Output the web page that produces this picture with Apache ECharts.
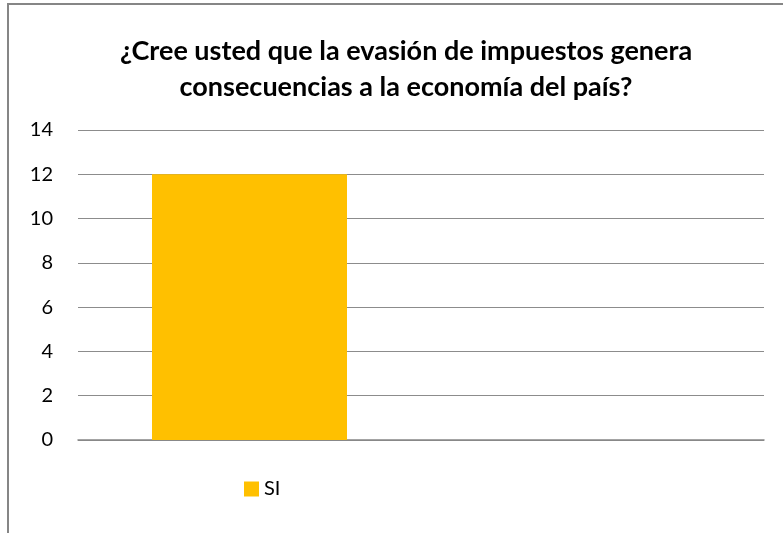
<!DOCTYPE html>
<html><head><meta charset="utf-8">
<script src="https://cdn.jsdelivr.net/npm/echarts@6/dist/echarts.min.js"></script>
<style>html,body{margin:0;padding:0;background:#fff}#c{width:783px;height:533px}</style>
</head><body><div id="c"></div>
<script>
var titleText = '¿Cree usted que la evasión de impuestos genera\nconsecuencias a la economía del país?';
var categories = ['', ''];
var seriesName = 'SI';
var siValues = [12, 0];
var yTicks = {min: 0, max: 14, interval: 2};

var chart = echarts.init(document.getElementById('c'));
chart.setOption({
  backgroundColor: '#fff',
  animation: false,
  graphic: [{
    type: 'rect', shape: {x: 8, y: 4, width: 800, height: 560},
    style: {fill: 'none', stroke: '#868686', lineWidth: 2}, silent: true
  }],
  title: {
    text: titleText, left: 401, top: 28, textAlign: 'center',
    textStyle: {fontFamily: 'Lato', fontWeight: 'bold', fontSize: 27, color: '#000', lineHeight: 36}
  },
  legend: {
    data: [seriesName], left: 244, top: 479, padding: 0, itemWidth: 15, itemHeight: 15, itemGap: 6,
    icon: 'rect', textStyle: {fontFamily: 'Lato', fontSize: 20, color: '#000', padding: [0,0,0,0]}
  },
  grid: {left: 78, right: 19, top: 130, bottom: 93, containLabel: false},
  xAxis: {
    type: 'category', data: categories,
    axisLine: {lineStyle: {color: '#868686', width: 1.5}},
    axisTick: {show: false}, axisLabel: {show: false}
  },
  yAxis: {
    type: 'value', min: yTicks.min, max: yTicks.max, interval: yTicks.interval,
    axisLine: {show: false}, axisTick: {show: false},
    splitLine: {lineStyle: {color: '#8c8c8c', width: 1}},
    axisLabel: {fontFamily: 'Lato', fontSize: 20, color: '#000', margin: 25}
  },
  series: [{
    name: seriesName, type: 'bar', data: siValues, barWidth: 195,
    itemStyle: {color: '#FFC000'}
  }]
});
</script></body></html>
